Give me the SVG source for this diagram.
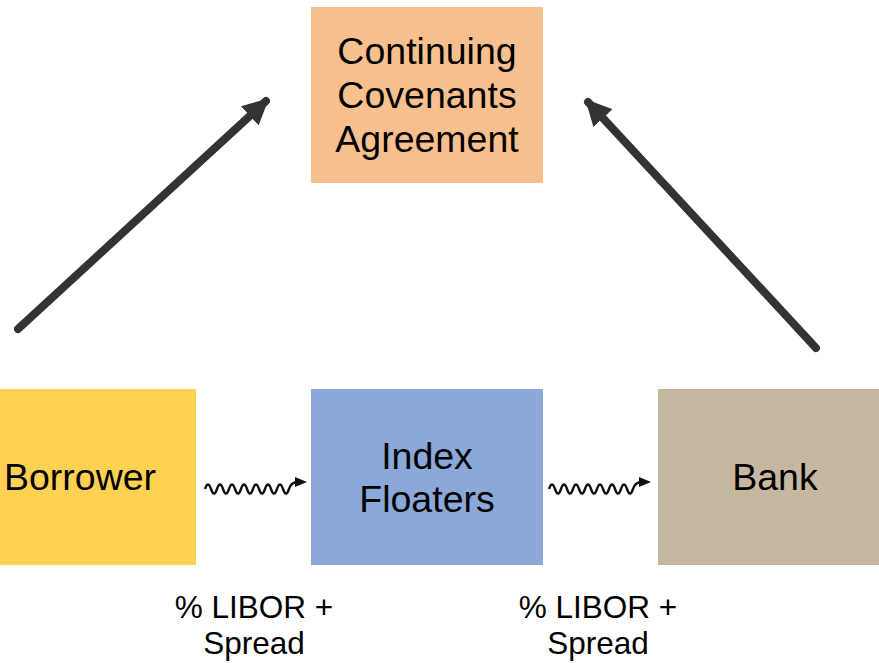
<svg xmlns="http://www.w3.org/2000/svg" width="879" height="663" viewBox="0 0 879 663">
<style>
text{font-family:"Liberation Sans",Arial,sans-serif;fill:#000;text-anchor:middle}
.n{font-size:37.5px}
.l{font-size:31.5px}
.arr{stroke:#333;stroke-width:8;stroke-linecap:round;fill:none}
.wv{stroke:#111;stroke-width:2.4;fill:none}
</style>
<defs>
<marker id="ah" markerUnits="userSpaceOnUse" viewBox="0 0 26 26" refX="22" refY="13" markerWidth="26" markerHeight="26" orient="auto"><path d="M0,0 L26,13 L0,26 Z" fill="#333"/></marker>
<marker id="sh" markerUnits="userSpaceOnUse" viewBox="0 0 12 10" refX="3" refY="5" markerWidth="12" markerHeight="10" orient="0"><path d="M0,0 L12,5 L0,10 Z" fill="#111"/></marker>
</defs>
<rect width="879" height="663" fill="#fff"/>
<g id="agreement"><rect x="311" y="7" width="232" height="176" fill="#F9C08F"/>
<text class="n" x="427" y="64">Continuing</text><text class="n" x="427" y="108">Covenants</text><text class="n" x="427" y="152">Agreement</text></g>
<g id="borrower"><rect x="0" y="389" width="196" height="176" fill="#FFD152"/><text class="n" x="80" y="490">Borrower</text></g>
<g id="index"><rect x="311" y="389" width="232" height="176" fill="#8AA8D8"/><text class="n" x="427" y="469">Index</text><text class="n" x="427" y="512">Floaters</text></g>
<g id="bank"><rect x="658" y="389" width="221" height="176" fill="#C6B8A0"/><text class="n" x="775" y="490">Bank</text></g>
<g id="connectors">
<line class="arr" x1="18" y1="329" x2="266" y2="101" marker-end="url(#ah)"/>
<line class="arr" x1="816" y1="348" x2="588" y2="102" marker-end="url(#ah)"/>
<path class="wv" d="M205,489 q3,-9 6,0 q3,9 6,0 q3,-9 6,0 q3,9 6,0 q3,-9 6,0 q3,9 6,0 q3,-9 6,0 q3,9 6,0 q3,-9 6,0 q3,9 6,0 q3,-9 6,0 q3,9 6,0 q3,-9 6,0 q3,9 6,0 q2,-7 9,-7" marker-end="url(#sh)"/>
<path class="wv" d="M549,489 q3,-9 6,0 q3,9 6,0 q3,-9 6,0 q3,9 6,0 q3,-9 6,0 q3,9 6,0 q3,-9 6,0 q3,9 6,0 q3,-9 6,0 q3,9 6,0 q3,-9 6,0 q3,9 6,0 q3,-9 6,0 q3,9 6,0 q2,-7 9,-7" marker-end="url(#sh)"/>
</g>
<g id="labels">
<text class="l" x="254" y="618">% LIBOR +</text><text class="l" x="254" y="654">Spread</text>
<text class="l" x="598" y="618">% LIBOR +</text><text class="l" x="598" y="654">Spread</text>
</g>
</svg>
